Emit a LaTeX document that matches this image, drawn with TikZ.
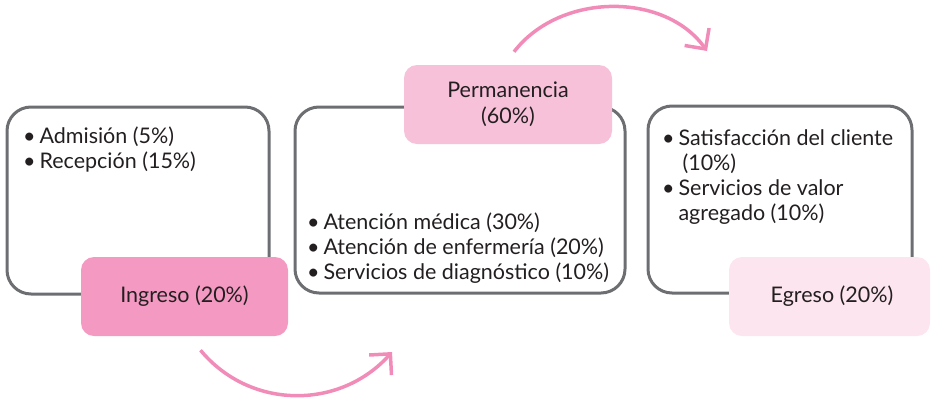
\documentclass[tikz,border=0pt]{standalone}
\usepackage{fontspec}
\setmainfont{Lato}
\usepackage{tikz}
\usetikzlibrary{arrows.meta}

\definecolor{txtgray}{HTML}{231F20}
\definecolor{boxgray}{HTML}{6D6E71}
\definecolor{pinkA}{HTML}{F49AC2}
\definecolor{pinkB}{HTML}{F7C1D9}
\definecolor{pinkC}{HTML}{FCE5EE}
\definecolor{arrowpink}{HTML}{F18CB9}

\newcommand{\bul}{•\hspace{0.18em}}

\begin{document}
\begin{tikzpicture}[x=1pt,y=-1pt,
    stage/.style={draw=boxgray, line width=3pt, rounded corners=24pt, inner sep=0pt},
    tag/.style={rounded corners=13pt, inner sep=0pt, minimum height=79, text=txtgray, align=center,
        font=\fontsize{21.5}{26}\selectfont},
    items/.style={anchor=base west, inner sep=0pt, align=left, text=txtgray,
        font=\fontsize{21.5}{25}\selectfont},
    flow/.style={draw=arrowpink, line width=3.5pt, -{Straight Barb[length=15pt,width=30pt]}}]
    \useasboundingbox (0,0) rectangle (931,397);

    % Gray frames of the three stages
    \node[stage, minimum width=262, minimum height=187] (frameA) at (138,200.5) {};
    \node[stage, minimum width=330, minimum height=186] (frameB) at (460,200) {};
    \node[stage, minimum width=264, minimum height=187] (frameC) at (780,199.5) {};

    % Bullet lists (anchored on the baseline of their last line)
    \node[items] (listA) at (23,168) {\bul Admisión (5\%)\\\bul Recepción (15\%)};
    \node[items] (listB) at (307,279) {\bul Atención médica (30\%)\\\bul Atención de enfermería (20\%)\\\bul Servicios de diagnóstico (10\%)};
    \node[items] (listC) at (662,220) {\bul Satisfacción del cliente\\\phantom{\bul}\hspace{4pt}(10\%)\\\bul Servicios de valor\\\phantom{\bul}agregado (10\%)};

    % Pink stage labels
    \node[tag, fill=pinkA, minimum width=207] (ingreso) at (184.5,296.5) {Ingreso (20\%)};
    \node[tag, fill=pinkB, minimum width=208] (permanencia) at (508,104.5) {Permanencia\\(60\%)};
    \node[tag, fill=pinkC, minimum width=201] (egreso) at (829.5,296.5) {\hspace{5pt}Egreso (20\%)};

    % Curved arrows between stages
    \coordinate (lowStart) at ([shift={(16,14)}]ingreso.south);
    \coordinate (lowEnd) at (392,352);
    \coordinate (highStart) at ([shift={(6,-13)}]permanencia.north);
    \coordinate (highEnd) at (707,51);
    \draw[flow] (lowStart) .. controls (250,410) and (340,410) .. (lowEnd);
    \draw[flow] (highStart) .. controls (560,-8) and (665,-8) .. (highEnd);
\end{tikzpicture}
\end{document}
